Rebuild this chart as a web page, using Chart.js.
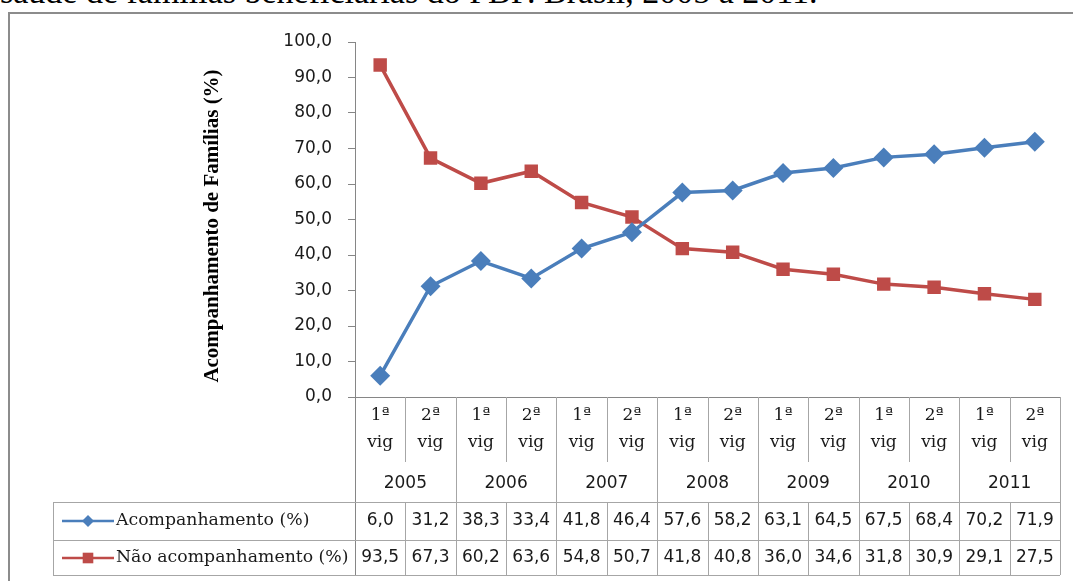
<!DOCTYPE html>
<html>
<head>
<meta charset="utf-8">
<script src="https://cdn.jsdelivr.net/npm/chart.js@4"></script>
<style>
  html, body { margin: 0; padding: 0; background: #fff; }
  body { width: 1073px; height: 581px; position: relative; overflow: hidden; }
  #caption { position: absolute; left: 0; top: -25px; font-family: "Liberation Serif", "Times New Roman", serif; font-size: 34px; line-height: 34px; color: #000; white-space: nowrap; }
  #frame { position: absolute; left: 8px; top: 12px; width: 1080px; height: 600px; border-left: 2px solid #8c8c8c; border-top: 2px solid #8c8c8c; box-sizing: border-box; }
  #wrap { position: absolute; left: 0; top: 0; width: 1073px; height: 581px; }
</style>
</head>
<body>
<div id="caption">saúde de famílias beneficiárias do PBF. Brasil, 2005 a 2011.</div>
<div id="frame"></div>
<div id="wrap"><canvas id="c" width="1073" height="581"></canvas></div>
<script>
// ---- data ----
const years = ["2005", "2006", "2007", "2008", "2009", "2010", "2011"];
const periods = ["1ª vig", "2ª vig"];
const categories = ["2005 1ª vig","2005 2ª vig","2006 1ª vig","2006 2ª vig","2007 1ª vig","2007 2ª vig","2008 1ª vig","2008 2ª vig","2009 1ª vig","2009 2ª vig","2010 1ª vig","2010 2ª vig","2011 1ª vig","2011 2ª vig"];
const acompanhamento = [6.0, 31.2, 38.3, 33.4, 41.8, 46.4, 57.6, 58.2, 63.1, 64.5, 67.5, 68.4, 70.2, 71.9];
const naoAcompanhamento = [93.5, 67.3, 60.2, 63.6, 54.8, 50.7, 41.8, 40.8, 36.0, 34.6, 31.8, 30.9, 29.1, 27.5];
const seriesNames = ["Acompanhamento (%)", "Não acompanhamento (%)"];
const yTitle = "Acompanhamento de Famílias (%)";

const fmt = v => v.toFixed(1).replace('.', ',');
const GRID = '#a6a6a6';
const AXIS = '#868686';
const TXT = '#1a1a1a';

const tablePlugin = {
  id: 'dataTable',
  afterDraw(chart) {
    const ctx = chart.ctx;
    const xs = chart.scales.x;
    const area = chart.chartArea;
    const L = area.left, R = area.right, B = area.bottom;
    const n = categories.length;
    const colW = (R - L) / n;
    const hdrBottom = 502, row1 = 540, row2 = 575, legL = 53;
    ctx.save();
    ctx.strokeStyle = GRID;
    ctx.lineWidth = 1;
    const line = (x1, y1, x2, y2) => { ctx.beginPath(); ctx.moveTo(x1, y1); ctx.lineTo(x2, y2); ctx.stroke(); };
    for (let i = 0; i <= n; i++) {
      const x = Math.round(L + i * colW) + 0.5;
      const full = (i % 2 === 0);
      if (i === 0) { ctx.strokeStyle = AXIS; line(x, B, x, row2); ctx.strokeStyle = GRID; continue; }
      line(x, B, x, full ? hdrBottom : 462);
      line(x, hdrBottom, x, row2);
    }
    [hdrBottom, row1, row2].forEach(y => line(legL, y + 0.5, R, y + 0.5));
    line(legL + 0.5, hdrBottom, legL + 0.5, row2);

    ctx.fillStyle = TXT;
    ctx.textAlign = 'center';
    ctx.textBaseline = 'middle';
    categories.forEach((c, i) => {
      const x = xs.getPixelForValue(i);
      const p = periods[i % 2].split(' ');
      ctx.font = '17px "DejaVu Serif"';
      ctx.fillText(p[0], x, 416);
      ctx.fillText(p[1], x, 443);
    });
    ctx.font = '17px "DejaVu Sans"';
    years.forEach((y, k) => {
      const x = (xs.getPixelForValue(2 * k) + xs.getPixelForValue(2 * k + 1)) / 2;
      ctx.fillText(y, x, 484);
    });
    const rows = [acompanhamento, naoAcompanhamento];
    const rowY = [521, 558];
    rows.forEach((arr, r) => {
      arr.forEach((v, i) => {
        ctx.fillText(fmt(v), xs.getPixelForValue(i), rowY[r]);
      });
    });
    chart.data.datasets.forEach((ds, r) => {
      const y = rowY[r];
      ctx.strokeStyle = ds.borderColor;
      ctx.lineWidth = 2.5;
      line(62, y, 114, y);
      const opts = { pointStyle: ds.pointStyle, radius: r === 0 ? 6 : 7.5, rotation: 0, borderWidth: 0 };
      ctx.fillStyle = ds.backgroundColor;
      ctx.strokeStyle = ds.backgroundColor;
      Chart.helpers.drawPoint(ctx, opts, 88, y);
      ctx.fillStyle = TXT;
      ctx.textAlign = 'left';
      ctx.font = '17.3px "DejaVu Serif"';
      ctx.fillText(seriesNames[r], 116, y);
    });

    ctx.save();
    ctx.translate(213, 226);
    ctx.rotate(-Math.PI / 2);
    ctx.textAlign = 'center';
    ctx.fillStyle = '#000';
    ctx.font = 'bold 21px "Liberation Serif"';
    ctx.fillText(yTitle, 0, 0);
    ctx.restore();
    ctx.restore();
  }
};

new Chart(document.getElementById('c'), {
  type: 'line',
  data: {
    labels: categories,
    datasets: [
      { label: seriesNames[0], data: acompanhamento, borderColor: '#4a7ebb', backgroundColor: '#4a7ebb', borderWidth: 3.5, pointStyle: 'rectRot', pointRadius: 10, pointBorderWidth: 0, tension: 0 },
      { label: seriesNames[1], data: naoAcompanhamento, borderColor: '#be4b48', backgroundColor: '#be4b48', borderWidth: 3.5, pointStyle: 'rect', pointRadius: 9.5, pointBorderWidth: 0, tension: 0 }
    ]
  },
  options: {
    responsive: false,
    animation: false,
    devicePixelRatio: 1,
    layout: { padding: { left: 0, top: 42, right: 13, bottom: 184 } },
    plugins: { legend: { display: false }, tooltip: { enabled: false }, title: { display: false } },
    scales: {
      x: {
        type: 'category',
        offset: true,
        ticks: { display: false },
        grid: { display: false },
        border: { display: true, color: AXIS, width: 1 },
        afterFit(s) { s.height = 0; }
      },
      y: {
        min: 0, max: 100,
        ticks: { stepSize: 10, color: TXT, font: { family: 'DejaVu Sans', size: 17 }, padding: 16, callback: v => fmt(v) },
        grid: { drawOnChartArea: false, drawTicks: true, tickLength: 7, color: AXIS },
        border: { display: true, color: AXIS, width: 1 },
        afterFit(s) { s.width = 355; }
      }
    }
  },
  plugins: [tablePlugin]
});
</script>
</body>
</html>
